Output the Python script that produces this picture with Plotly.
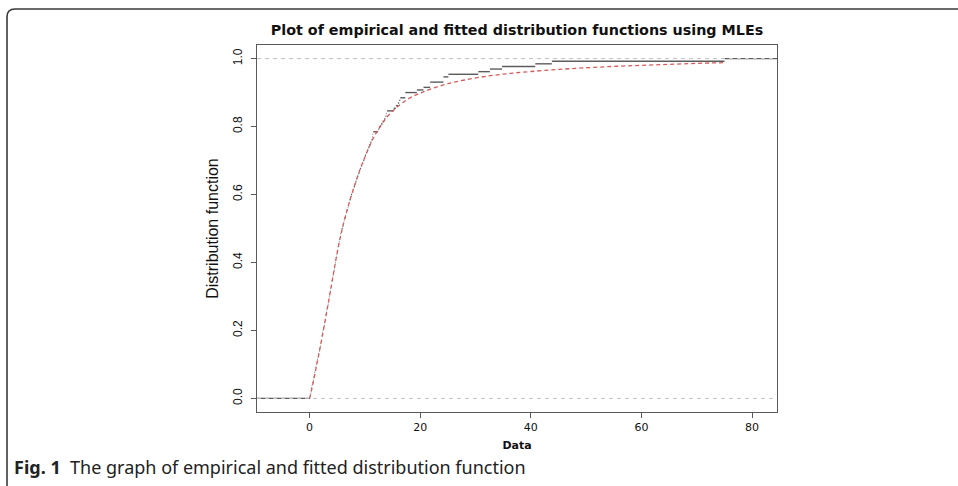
import plotly.graph_objects as go

# Observed sample (sorted), n = 130
data = [
    0.1, 0.2, 0.3, 0.3, 0.4, 0.5, 0.6, 0.7, 0.8, 0.9,
    1.0, 1.1, 1.2, 1.3, 1.4, 1.5, 1.6, 1.7, 1.8, 1.9,
    2.0, 2.1, 2.2, 2.2, 2.3, 2.4, 2.5, 2.6, 2.7, 2.8,
    2.9, 2.9, 3.0, 3.1, 3.2, 3.3, 3.4, 3.5, 3.5, 3.6,
    3.7, 3.8, 3.9, 4.0, 4.0, 4.1, 4.2, 4.3, 4.4, 4.5,
    4.6, 4.6, 4.7, 4.8, 4.9, 5.0, 5.1, 5.1, 5.2, 5.3,
    5.4, 5.5, 5.6, 5.7, 5.8, 6.0, 6.1, 6.2, 6.3, 6.5,
    6.6, 6.7, 6.9, 7.0, 7.1, 7.2, 7.4, 7.5, 7.7, 7.9,
    8.0, 8.2, 8.3, 8.5, 8.6, 8.8, 9.0, 9.1, 9.3, 9.5,
    9.7, 9.9, 10.0, 10.2, 10.4, 10.6, 10.8, 11.0, 11.2, 11.3,
    11.4, 11.5, 12.4, 12.6, 12.9, 13.2, 13.5, 13.7, 13.9, 14.0,
    15.2, 15.6, 16.0, 16.2, 16.4, 17.3, 17.3, 19.4, 20.6, 21.8,
    21.8, 24.2, 24.2, 25.1, 30.5, 32.6, 34.8, 40.8, 43.8, 75.0,
]

# Fitted distribution function (MLE) evaluated on a grid
fit_x = [0, 0.5, 1, 1.5, 2, 3, 4, 5, 6, 7, 8, 9, 10, 11, 12, 13, 14, 15, 16,
         18, 20, 22, 25, 28, 32, 36, 40, 45, 50, 55, 60, 65, 70, 75]
fit_F = [0.0, 0.035, 0.075, 0.115, 0.157, 0.245, 0.337, 0.429, 0.505, 0.566,
         0.620, 0.668, 0.710, 0.748, 0.780, 0.806, 0.828, 0.845, 0.860,
         0.883, 0.898, 0.911, 0.926, 0.937, 0.948, 0.956, 0.962, 0.968,
         0.973, 0.977, 0.980, 0.983, 0.986, 0.988]

x_range = [-9.5, 84.5]
y_range = [-0.04, 1.04]
x_ticks = [0, 20, 40, 60, 80]
y_ticks = [0.0, 0.2, 0.4, 0.6, 0.8, 1.0]
y_ticklabels = ["0.0", "0.2", "0.4", "0.6", "0.8", "1.0"]

# Empirical CDF as horizontal segments (no verticals)
n = len(data)
knots = sorted(set(data))
cum = []
c = 0
for k in knots:
    c += data.count(k)
    cum.append(c / n)

ex, ey = [x_range[0], knots[0], None], [0, 0, None]
for i, k in enumerate(knots):
    right = knots[i + 1] if i + 1 < len(knots) else x_range[1]
    ex += [k, right, None]
    ey += [cum[i], cum[i], None]

fig = go.Figure()
fig.add_trace(go.Scatter(x=ex, y=ey, mode="lines",
                         line=dict(color="#5c5c5c", width=1.4),
                         connectgaps=False, hoverinfo="skip", showlegend=False))

# Reference lines at 0 and 1
for h in (0, 1):
    fig.add_shape(type="line", xref="x", yref="y", x0=x_range[0], x1=x_range[1],
                  y0=h, y1=h, line=dict(color="#c2c2c2", width=1, dash="4px,4px"),
                  layer="above")

fig.add_trace(go.Scatter(x=fit_x, y=fit_F, mode="lines", line_shape="spline",
                         line=dict(color="#d65a5a", width=1.3, dash="4px,3px"),
                         hoverinfo="skip", showlegend=False))

W, H = 958, 486
ml, mr, mt, mb = 257, 181, 45, 74
pw, ph = W - ml - mr, H - mt - mb


def px(xp):
    return (xp - ml) / pw


def py(yp):
    return (H - mb - yp) / ph


# Page frame with rounded top-left corner
x0, yt, yb, xr = px(7), py(9), py(490), px(965)
dx, dy = 8 / pw, 8 / ph
fig.add_shape(type="path", xref="paper", yref="paper",
              path=f"M {x0},{yb} L {x0},{yt - dy} Q {x0},{yt} {x0 + dx},{yt} L {xr},{yt}",
              line=dict(color="#3a3a3a", width=1.6))

fig.add_annotation(xref="paper", yref="paper", x=px(12), y=py(467),
                   xanchor="left", yanchor="middle", showarrow=False,
                   text="<b>Fig. 1</b>  The graph of empirical and fitted distribution function",
                   font=dict(family="Noto Sans", size=18, color="#222222"))

fig.update_layout(
    width=W, height=H,
    margin=dict(l=ml, r=mr, t=mt, b=mb),
    paper_bgcolor="white", plot_bgcolor="white",
    title=dict(text="<b>Plot of empirical and fitted distribution functions using MLEs</b>",
               x=(ml + pw / 2) / W, xanchor="center", y=1 - 30 / H, yanchor="middle",
               font=dict(family="DejaVu Sans", size=14.3, color="#111111")),
    xaxis=dict(range=x_range, tickvals=x_ticks, showgrid=False, zeroline=False,
               showline=True, mirror=True, linecolor="#5a5a5a", linewidth=1,
               ticks="outside", ticklen=5, tickcolor="#5a5a5a",
               tickfont=dict(family="DejaVu Sans", size=11, color="#111111"),
               title=dict(text="<b>Data</b>", standoff=8,
                          font=dict(family="DejaVu Sans", size=11, color="#111111"))),
    yaxis=dict(range=y_range, tickvals=y_ticks, ticktext=y_ticklabels, tickangle=-90,
               showgrid=False, zeroline=False,
               showline=True, mirror=True, linecolor="#5a5a5a", linewidth=1,
               ticks="outside", ticklen=5, tickcolor="#5a5a5a", ticklabelstandoff=4,
               tickfont=dict(family="Liberation Sans", size=12, color="#111111"),
               title=dict(text="Distribution function", standoff=8,
                          font=dict(family="Liberation Sans", size=16, color="#111111"))),
)

fig.write_html("out.html")
